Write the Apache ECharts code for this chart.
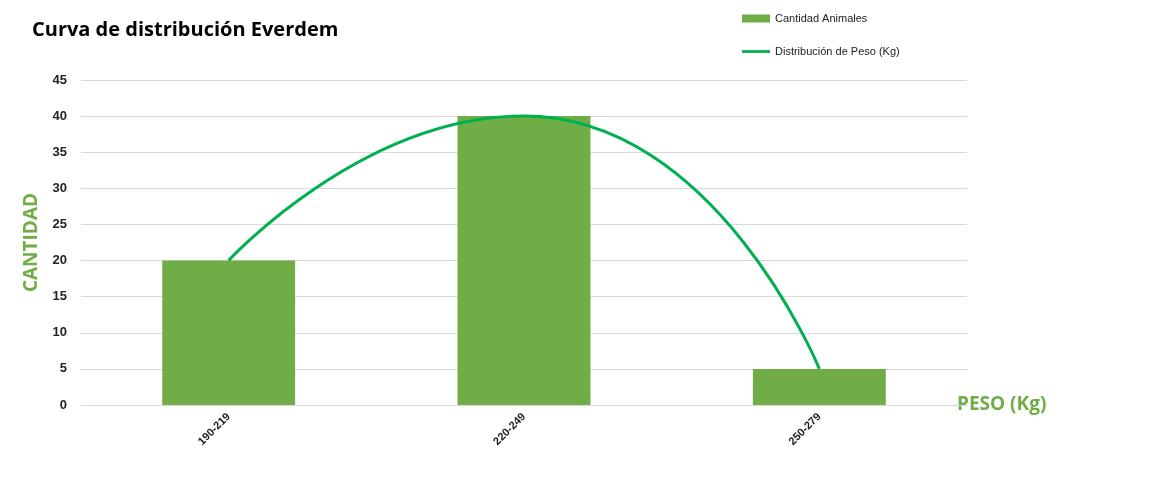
<!DOCTYPE html>
<html><head><meta charset="utf-8">
<script src="https://cdn.jsdelivr.net/npm/echarts@6/dist/echarts.min.js"></script>
<style>html,body{margin:0;padding:0;background:#fff}#c{width:1154px;height:500px}</style>
</head><body><div id="c"></div>
<script>
const categories = ['190-219','220-249','250-279'];
const cantidad = [20, 40, 5];
const distribucion = [20, 40, 5];
const yTicks = {min:0, max:45, interval:5};
const chart = echarts.init(document.getElementById('c'));
chart.setOption({
  animation:false,
  textStyle:{fontFamily:'Liberation Sans'},
  title:{text:'Curva de distribución Everdem',left:27,top:15,textStyle:{fontSize:20,fontWeight:'bold',color:'#000',fontFamily:'Open Sans'}},
  legend:{orient:'vertical',left:737,top:8,itemGap:22,itemWidth:28,itemHeight:8,textStyle:{fontSize:11,color:'#222'},
    data:[{name:'Cantidad Animales',icon:'rect'},{name:'Distribución de Peso (Kg)',icon:'path://M0,4h30v3h-30z'}]},
  grid:{left:81,right:187,top:80,bottom:95},
  xAxis:{type:'category',data:categories,axisTick:{show:false},axisLine:{lineStyle:{color:'#d9d9d9'}},
    axisLabel:{rotate:45,fontWeight:'bold',fontSize:11,color:'#222',margin:10},
    name:'PESO (Kg)',nameLocation:'end',nameGap:0,
    nameTextStyle:{color:'#70AD47',fontSize:19,fontWeight:'bold',padding:[85,0,0,-10],align:'left',fontFamily:'Open Sans'}},
  yAxis:{type:'value',min:yTicks.min,max:yTicks.max,interval:yTicks.interval,
    axisLabel:{fontWeight:'bold',fontSize:13,color:'#222',margin:14},
    splitLine:{lineStyle:{color:'#d9d9d9'}},axisLine:{show:false},
    name:'CANTIDAD',nameLocation:'middle',nameGap:40,nameRotate:90,
    nameTextStyle:{color:'#70AD47',fontSize:19,fontWeight:'bold',fontFamily:'Open Sans'}},
  series:[
    {name:'Cantidad Animales',type:'bar',data:cantidad,barWidth:'45%',itemStyle:{color:'#70AD47'}},
    {name:'Distribución de Peso (Kg)',type:'line',data:distribucion,smooth:0.6,symbol:'none',lineStyle:{color:'#00B050',width:3},itemStyle:{color:'#00B050'}}
  ]
});
</script></body></html>
